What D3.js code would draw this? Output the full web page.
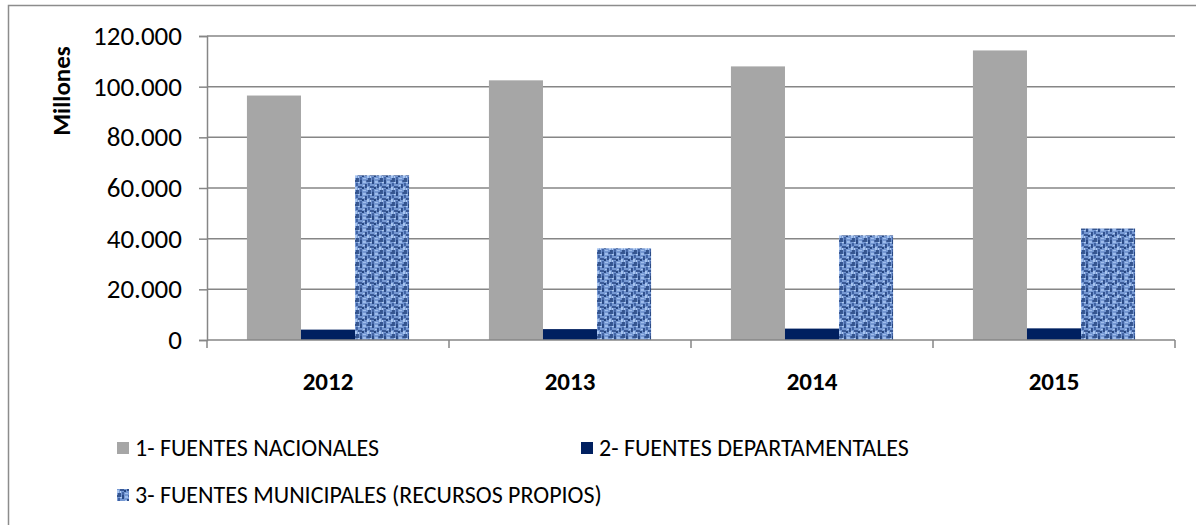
<!DOCTYPE html>
<html>
<head>
<meta charset="utf-8">
<script src="https://cdn.jsdelivr.net/npm/d3@7"></script>
<style>
  body { margin: 0; background: #fff; }
  svg { display: block; }
</style>
</head>
<body>
<svg id="chart"></svg>
<script>
// chart data (millones)
const years = ['2012', '2013', '2014', '2015'];
const seriesNames = [
  '1- FUENTES NACIONALES',
  '2- FUENTES DEPARTAMENTALES',
  '3- FUENTES MUNICIPALES (RECURSOS PROPIOS)'
];
const nacionales = [96500, 102500, 108000, 114300];
const departamentales = [4100, 4300, 4500, 4600];
const municipales = [65000, 36200, 41300, 44000];
const yTicks = [0, 20000, 40000, 60000, 80000, 100000, 120000];

const width = 1196, height = 525;
const margin = { top: 36, right: 21, bottom: 185, left: 207 };
const font = 'Calibri, Carlito, "Open Sans", sans-serif';

const svg = d3.select('#chart')
  .attr('width', width)
  .attr('height', height);

// woven blue texture for series 3 (hand placed flecks)
const defs = svg.append('defs');
const pat = defs.append('pattern')
  .attr('id', 'weave')
  .attr('patternUnits', 'userSpaceOnUse')
  .attr('width', 12)
  .attr('height', 12);
pat.append('rect').attr('width', 12).attr('height', 12).attr('fill', '#7598d3');
const flecks = [
  [0, 0, 4, 2, '#35558f'], [5, 0, 2, 4, '#2a4a86'], [8, 1, 3, 2, '#9dbcec'],
  [1, 3, 2, 3, '#3f62a3'], [10, 4, 2, 4, '#2f4f8c'], [3, 6, 4, 2, '#3a5a97'],
  [0, 7, 2, 3, '#a8c5f0'], [7, 7, 2, 2, '#25457f'], [1, 10, 3, 2, '#34548f'],
  [5, 9, 2, 3, '#4465a4'], [8, 10, 3, 1, '#a2c0ee'], [3, 2, 2, 1, '#b0cbf2'],
  [11, 0, 1, 2, '#4a6cab'], [3, 8, 1, 2, '#b3cdf3'], [8, 5, 2, 1, '#acc8f1']
];
flecks.forEach(([fx, fy, fw, fh, c]) => {
  pat.append('rect').attr('x', fx).attr('y', fy).attr('width', fw).attr('height', fh).attr('fill', c);
});

// outer frame
svg.append('rect')
  .attr('x', 8.5).attr('y', 5.5)
  .attr('width', 1300).attr('height', 700)
  .attr('fill', 'none')
  .attr('stroke', '#8c8c8c')
  .attr('stroke-width', 1.5);

const x0 = d3.scaleBand()
  .domain(years)
  .range([margin.left, width - margin.right])
  .paddingInner(0.33)
  .paddingOuter(0.165);

const x1 = d3.scaleBand()
  .domain([0, 1, 2])
  .range([0, x0.bandwidth()]);

const y = d3.scaleLinear()
  .domain([0, 120000])
  .range([height - margin.bottom, margin.top]);

const fmt = v => v === 0 ? '0' : d3.format(',')(v).replace(/,/g, '.');

// y axis
const yAxis = svg.append('g')
  .attr('transform', `translate(${margin.left},0)`)
  .call(d3.axisLeft(y).tickValues(yTicks).tickFormat(fmt).tickSize(8).tickPadding(17));
yAxis.select('.domain').attr('stroke', '#868686').attr('stroke-width', 1.5);
yAxis.selectAll('.tick line').attr('stroke', '#868686').attr('stroke-width', 1.5);
yAxis.selectAll('.tick text')
  .attr('font-family', font)
  .attr('font-size', 27)
  .attr('fill', '#000');

// gridlines
svg.append('g')
  .selectAll('line')
  .data(yTicks.filter(d => d > 0))
  .join('line')
  .attr('x1', margin.left)
  .attr('x2', width - margin.right)
  .attr('y1', d => y(d))
  .attr('y2', d => y(d))
  .attr('stroke', '#868686')
  .attr('stroke-width', 1.5);

// bars
const series = [nacionales, departamentales, municipales];
const fills = ['#a6a6a6', '#002060', 'url(#weave)'];

const groups = svg.append('g')
  .selectAll('g')
  .data(years)
  .join('g')
  .attr('transform', d => `translate(${x0(d)},0)`);

groups.selectAll('rect')
  .data((d, i) => series.map((s, k) => ({ k, v: s[i] })))
  .join('rect')
  .attr('x', d => x1(d.k))
  .attr('width', x1.bandwidth())
  .attr('y', d => y(d.v))
  .attr('height', d => y(0) - y(d.v))
  .attr('fill', d => fills[d.k]);

// x axis
const xTickPos = d3.range(years.length + 1).map(i => margin.left + i * x0.step());
const xAxis = svg.append('g');
xAxis.append('line')
  .attr('x1', margin.left).attr('x2', width - margin.right)
  .attr('y1', y(0)).attr('y2', y(0))
  .attr('stroke', '#868686').attr('stroke-width', 1.5);
xAxis.selectAll('line.tk')
  .data(xTickPos)
  .join('line')
  .attr('class', 'tk')
  .attr('x1', d => d).attr('x2', d => d)
  .attr('y1', y(0)).attr('y2', y(0) + 8)
  .attr('stroke', '#868686').attr('stroke-width', 1.5);
xAxis.selectAll('text')
  .data(years)
  .join('text')
  .attr('x', d => x0(d) + x0.bandwidth() / 2)
  .attr('y', y(0) + 50)
  .attr('text-anchor', 'middle')
  .attr('font-family', font)
  .attr('font-size', 25)
  .attr('font-weight', 'bold')
  .text(d => d);

// y title
svg.append('text')
  .attr('transform', 'translate(70,91) rotate(-90)')
  .attr('text-anchor', 'middle')
  .attr('font-family', font)
  .attr('font-size', 25)
  .attr('font-weight', 'bold')
  .text('Millones');

// legend
const legendPos = [
  { x: 117, y: 448 },
  { x: 581, y: 448 },
  { x: 117, y: 495 }
];
const legend = svg.append('g')
  .selectAll('g')
  .data(seriesNames)
  .join('g')
  .attr('transform', (d, i) => `translate(${legendPos[i].x},${legendPos[i].y})`);
legend.append('rect')
  .attr('x', 0).attr('y', -6)
  .attr('width', 12).attr('height', 12)
  .attr('fill', (d, i) => fills[i]);
legend.append('text')
  .attr('x', 18).attr('y', 8)
  .attr('font-family', font)
  .attr('font-size', 24)
  .text(d => d);
</script>
</body>
</html>
